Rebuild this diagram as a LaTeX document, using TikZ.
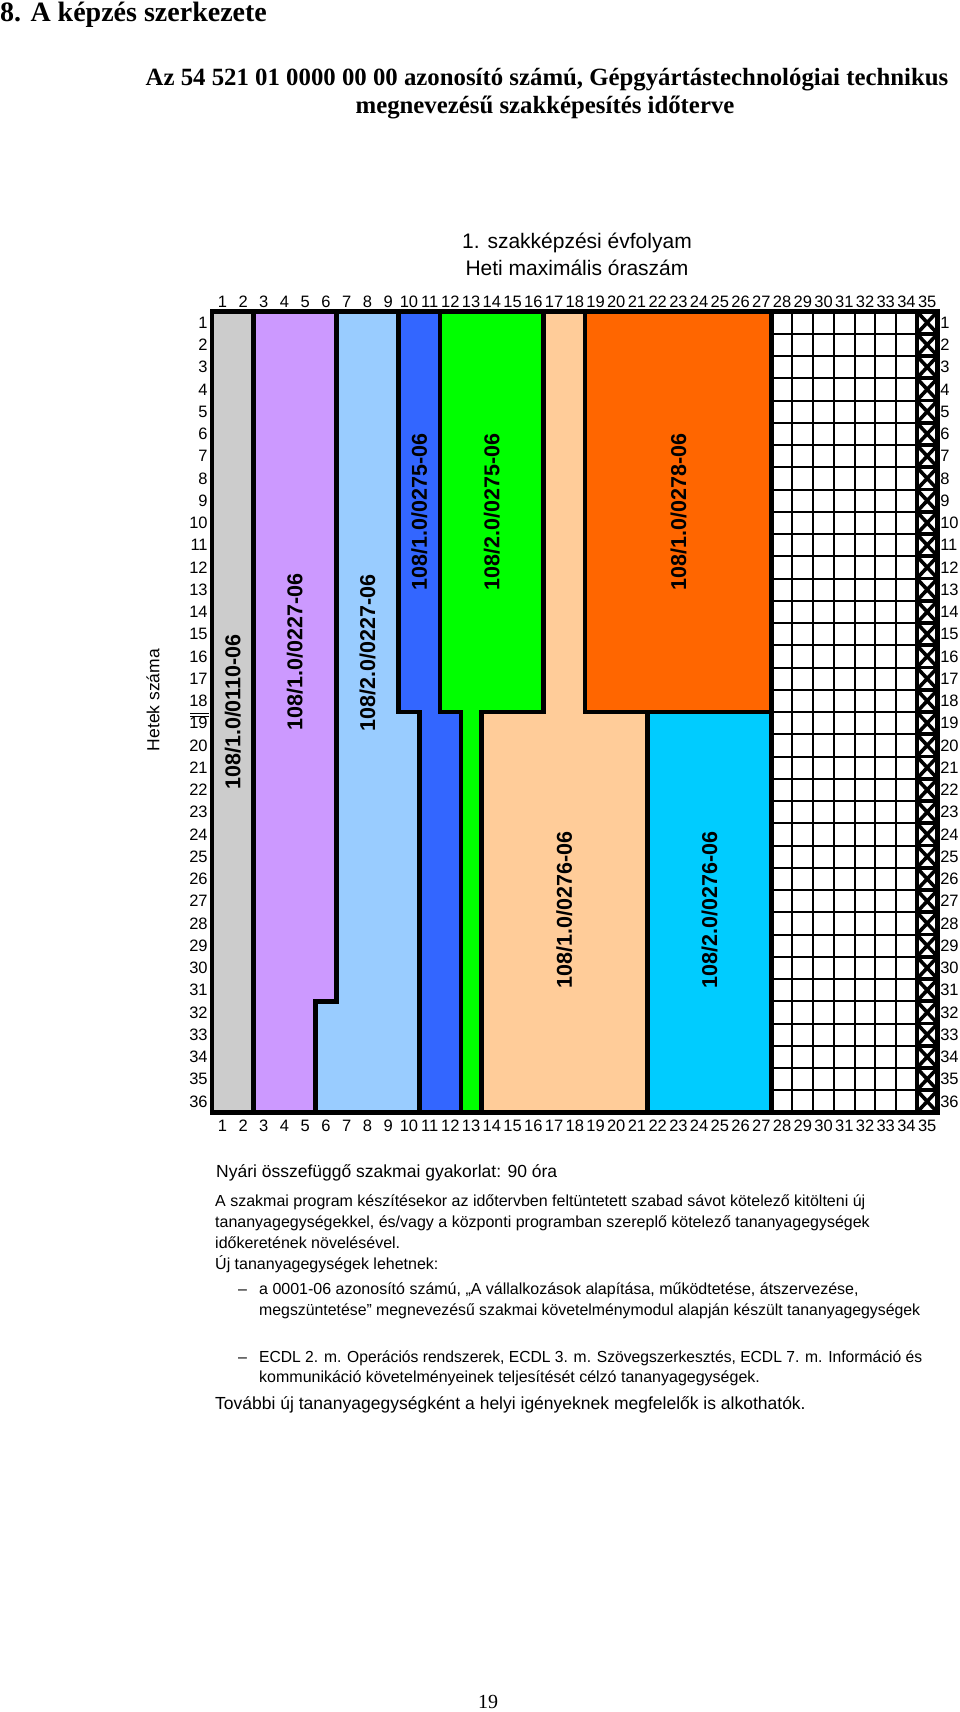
\documentclass[tikz,border=0pt]{standalone}
\usepackage{graphicx}
\usepackage{fontspec}
\setmainfont{Liberation Serif}
\setsansfont{Liberation Sans}
\definecolor{cgrey}{HTML}{CCCCCC}
\definecolor{cpurple}{HTML}{CC99FF}
\definecolor{clblue}{HTML}{99CCFF}
\definecolor{cdblue}{HTML}{3366FF}
\definecolor{cgreen}{HTML}{00FF00}
\definecolor{cpeach}{HTML}{FFCC99}
\definecolor{corange}{HTML}{FF6600}
\definecolor{ccyan}{HTML}{00CCFF}
\begin{document}
\begin{tikzpicture}[x=1pt,y=1pt,
 blk/.style={draw=black,line width=4.5pt,line join=miter},
 gline/.style={draw=black,line width=2pt},
 xln/.style={draw=black,line width=3.6pt},
 lbl/.style={rotate=90,inner sep=0pt,font=\sffamily\bfseries\fontsize{21.5}{21.5}\selectfont},
 axn/.style={inner sep=0pt,font=\sffamily\fontsize{16.5}{16.5}\selectfont},
 txt/.style={anchor=base west,inner sep=0pt,font=\sffamily\fontsize{16}{19}\selectfont},
 txtb/.style={anchor=base west,inner sep=0pt,font=\sffamily\fontsize{17.5}{20}\selectfont},
 ttl/.style={inner sep=0pt,font=\bfseries\fontsize{24.8}{28}\selectfont,anchor=base}]
\fill[white] (0,0) rectangle (960,-1712);
\useasboundingbox (0,0) rectangle (960,-1712);

% headings
\node[inner sep=0pt,anchor=base west,font=\bfseries\fontsize{28}{30}\selectfont] (title) at (0,-21.5) {8. A képzés szerkezete};
\node[ttl] (sub1) at (547,-86) {Az 54 521 01 0000 00 00 azonosító számú, Gépgyártástechnológiai technikus};
\node[ttl] (sub2) at (545,-114) {megnevezésű szakképesítés időterve};
\node[inner sep=0pt,anchor=base,font=\sffamily\fontsize{21}{24}\selectfont] (evf) at (577,-248) {1. szakképzési évfolyam};
\node[inner sep=0pt,anchor=base,font=\sffamily\fontsize{21}{24}\selectfont] (heti) at (577,-275) {Heti maximális óraszám};
\node[rotate=90,inner sep=0pt,font=\sffamily\fontsize{17.5}{17.5}\selectfont] (hetek) at (153,-700) {Hetek száma};
\draw[line width=1pt] (190,-713.5) -- (209,-713.5);
\draw[line width=1pt] (190,-716.8) -- (209,-716.8);

\begin{scope}[shift={(212pt,-311.5pt)},x=20.73pt,y=-22.25pt]
 \path[fill=cgrey] (0,0) rectangle (2,36);
 \path[fill=cpurple] (2,0) -- (6,0) -- (6,31) -- (5,31) -- (5,36) -- (2,36) -- cycle;
 \path[fill=clblue] (6,0) -- (9,0) -- (9,18) -- (10,18) -- (10,36) -- (5,36) -- (5,31) -- (6,31) -- cycle;
 \path[fill=cdblue] (9,0) -- (11,0) -- (11,18) -- (12,18) -- (12,36) -- (10,36) -- (10,18) -- (9,18) -- cycle;
 \path[fill=cgreen] (11,0) -- (16,0) -- (16,18) -- (13,18) -- (13,36) -- (12,36) -- (12,18) -- (11,18) -- cycle;
 \path[fill=cpeach] (16,0) -- (18,0) -- (18,18) -- (21,18) -- (21,36) -- (13,36) -- (13,18) -- (16,18) -- cycle;
 \path[fill=corange] (18,0) rectangle (27,18);
 \path[fill=ccyan] (21,18) rectangle (27,36);
 % free grid
 \foreach \c in {28,...,33} \draw[gline] (\c,0) -- (\c,36);
 \foreach \r in {1,...,35} \draw[gline] (27,\r) -- (34,\r);
 \foreach \r in {1,...,35} \draw[xln] (34,\r) -- (35,\r);
 \foreach \r in {1,...,36} {
   \draw[xln] (34,\r-1) -- (35,\r);
   \draw[xln] (35,\r-1) -- (34,\r);
 }
 % borders
 \draw[blk] (2,0) -- (2,36);
 \draw[blk] (6,0) -- (6,31) -- (5,31) -- (5,36);
 \draw[blk] (9,0) -- (9,18) -- (10,18) -- (10,36);
 \draw[blk] (11,0) -- (11,18) -- (12,18) -- (12,36);
 \draw[blk] (16,0) -- (16,18) -- (13,18) -- (13,36);
 \draw[blk] (18,0) -- (18,18) -- (21,18) -- (21,36);
 \draw[blk] (21,18) -- (27,18);
 \draw[blk] (27,0) -- (27,36);
 \draw[line width=4pt] (34,0) -- (34,36);
 \draw[blk] (0,0) rectangle (35,36);
 % block labels
 \node[lbl] (l0110) at (1,18) {108/1.0/0110-06};
 \node[lbl] (l10227) at (4,15.3) {108/1.0/0227-06};
 \node[lbl] (l20227) at (7.5,15.35) {108/2.0/0227-06};
 \node[lbl] (l10275) at (10,9.0) {108/1.0/0275-06};
 \node[lbl] (l20275) at (13.5,9.0) {108/2.0/0275-06};
 \node[lbl] (l10278) at (22.5,9.0) {108/1.0/0278-06};
 \node[lbl] (l10276) at (17,26.9) {108/1.0/0276-06};
 \node[lbl] (l20276) at (24,26.9) {108/2.0/0276-06};
 % axis numbers
 \foreach \i in {1,...,35} {
   \node[axn] (ct\i) at (\i-0.5,-0.43) {\i};
   \node[axn] (cb\i) at (\i-0.5,36.61) {\i};
 }
 \foreach \r in {1,...,36} {
   \node[axn,anchor=east] (rl\r) at (-0.2,\r-0.5) {\r};
   \node[axn,anchor=west] (rr\r) at (35.12,\r-0.5) {\r};
 }
\end{scope}

% notes
\node[txtb] (nyari) at (216,-1177) {Nyári összefüggő szakmai gyakorlat: 90 óra};
\node[txt] (p1) at (215,-1206) {A szakmai program készítésekor az időtervben feltüntetett szabad sávot kötelező kitölteni új};
\node[txt] (p2) at (215,-1227) {tananyagegységekkel, és/vagy a központi programban szereplő kötelező tananyagegységek};
\node[txt] (p3) at (215,-1248) {időkeretének növelésével.};
\node[txt] (p4) at (215,-1269) {Új tananyagegységek lehetnek:};
\node[txt] (d1) at (238,-1294) {–};
\node[txt] (b1a) at (259,-1294) {a 0001-06 azonosító számú, „A vállalkozások alapítása, működtetése, átszervezése,};
\node[txt] (b1b) at (259,-1315) {\resizebox{661pt}{\height}{megszüntetése” megnevezésű szakmai követelménymodul alapján készült tananyagegységek}};
\node[txt] (d2) at (238,-1362) {–};
\node[txt] (b2a) at (259,-1362) {\resizebox{663pt}{\height}{ECDL 2. m. Operációs rendszerek, ECDL 3. m. Szövegszerkesztés, ECDL 7. m. Információ és}};
\node[txt] (b2b) at (259,-1382) {kommunikáció követelményeinek teljesítését célzó tananyagegységek.};
\node[txtb] (tovabbi) at (215,-1409) {További új tananyagegységként a helyi igényeknek megfelelők is alkothatók.};
\node[inner sep=0pt,anchor=base,font=\fontsize{20}{20}\selectfont] (page) at (488,-1708) {19};
\end{tikzpicture}
\end{document}
